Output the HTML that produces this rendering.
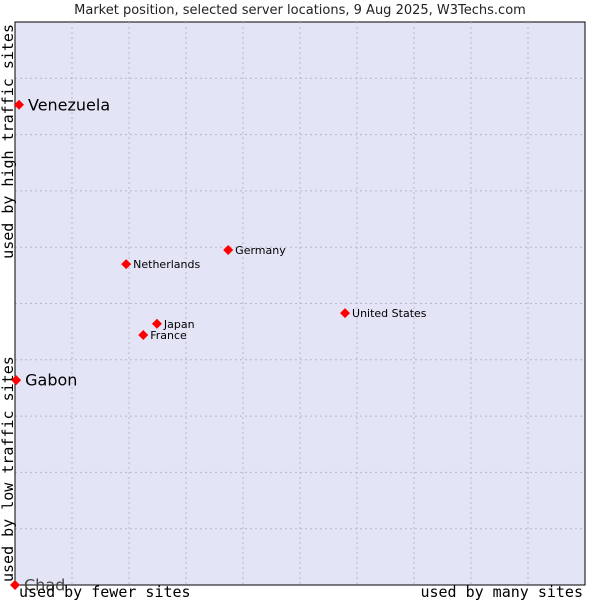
<!DOCTYPE html>
<html><head><meta charset="utf-8"><style>
body{margin:0;background:#fff;width:600px;height:600px;overflow:hidden}
svg text{font-family:"DejaVu Sans","Liberation Sans",sans-serif}
</style></head><body>
<svg id="chart" width="600" height="600">
<text x="300" y="14" text-anchor="middle" font-size="13" fill="#222">Market position, selected server locations, 9 Aug 2025, W3Techs.com</text>
<rect x="15" y="22" width="570" height="563" fill="#e3e5f7" stroke="#000" stroke-width="1"/>
<g id="grid"></g>
<line x1="15" y1="22" x2="15" y2="585" stroke="#000"/>
<line x1="15" y1="585" x2="585" y2="585" stroke="#000"/>
<g id="points"></g>
<text x="19" y="597" style="font-family:'DejaVu Sans Mono','Liberation Mono',monospace" font-size="15" fill="#000">used by fewer sites</text>
<text x="583" y="597" text-anchor="end" style="font-family:'DejaVu Sans Mono','Liberation Mono',monospace" font-size="15" fill="#000">used by many sites</text>
<text transform="translate(13,582) rotate(-90)" style="font-family:'DejaVu Sans Mono','Liberation Mono',monospace" font-size="15" fill="#000">used by low traffic sites</text>
<text transform="translate(13,24) rotate(-90)" text-anchor="end" style="font-family:'DejaVu Sans Mono','Liberation Mono',monospace" font-size="15" fill="#000">used by high traffic sites</text>
</svg>
<script>
const countries=["Venezuela","Gabon","Chad","Netherlands","Germany","Japan","France","United States"];
const xValues=[0.007,0.002,0,0.195,0.374,0.249,0.225,0.579];
const yValues=[0.853,0.364,0,0.570,0.595,0.464,0.444,0.483];
const labelSizes=[16,16,16,11,11,11,11,11];
const L=15,T=22,W=570,H=563;
const sx=v=>L+v*W, sy=v=>T+H-v*H;
const NS="http://www.w3.org/2000/svg";
const grid=document.getElementById('grid');
for(let i=1;i<10;i++){
 const v=document.createElementNS(NS,'line');
 v.setAttribute('x1',sx(i/10));v.setAttribute('x2',sx(i/10));v.setAttribute('y1',T);v.setAttribute('y2',T+H);
 v.setAttribute('stroke','#b8b8c0');v.setAttribute('stroke-dasharray','2,3');
 
 
 grid.appendChild(v);
 const h=document.createElementNS(NS,'line');
 h.setAttribute('y1',sy(i/10));h.setAttribute('y2',sy(i/10));h.setAttribute('x1',L);h.setAttribute('x2',L+W);
 h.setAttribute('stroke','#b8b8c0');h.setAttribute('stroke-dasharray','2,3');
 
 
 grid.appendChild(h);
}
const pts=document.getElementById('points');
countries.forEach((c,i)=>{
 const x=sx(xValues[i]),y=sy(yValues[i]);
 const p=document.createElementNS(NS,'path');
 p.setAttribute('d',`M${x},${y-5}L${x+5},${y}L${x},${y+5}L${x-5},${y}Z`);
 p.setAttribute('fill','#f00');
 
 
 pts.appendChild(p);
 const t=document.createElementNS(NS,'text');
 const big=labelSizes[i]>12;
 t.setAttribute('x',x+(big?9:7));t.setAttribute('y',y+(big?5.5:4));
 t.setAttribute('font-size',labelSizes[i]);
 t.setAttribute('fill',c==="Chad"?'#444':'#000');
 t.textContent=c;
 
 
 pts.appendChild(t);
});
</script>
</body></html>
